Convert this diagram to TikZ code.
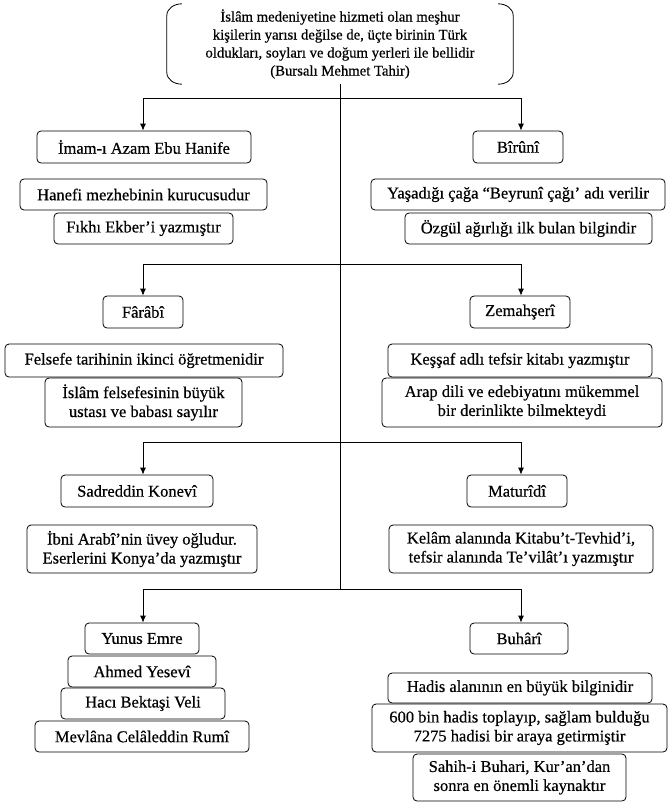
\documentclass[tikz,border=0pt]{standalone}
\usepackage{fontspec}
\setmainfont{Liberation Serif}
\newfontfamily\heavyserif{Liberation Serif}[FakeBold=0.5]
\usetikzlibrary{arrows.meta,calc}
\begin{document}
\begin{tikzpicture}[x=1pt,y=-1pt,
  line/.style={line width=0.8pt},
  arr/.style={line width=0.8pt,-{Latex[length=7pt,width=6pt]}},
  box/.style={draw,line width=0.8pt,rounded corners=4pt,align=center,inner sep=0pt,
     font=\heavyserif\fontsize{16.5}{19}\selectfont},
  bw/.style={minimum width=#1},
  bh/.style={minimum height=#1}]
\useasboundingbox (0,0) rectangle (668,804);
% top quotation
\node[align=center,inner sep=0pt,minimum width=346pt,minimum height=80pt,
      font=\heavyserif\fontsize{14.7}{18}\selectfont] (top) at (340,44)
  {İslâm medeniyetine hizmeti olan meşhur\\kişilerin yarısı değilse de, üçte birinin Türk\\oldukları, soyları ve doğum yerleri ile bellidir\\(Bursalı Mehmet Tahir)};
\draw[line] ([xshift=15pt]top.north west) to[out=180,in=90] ([yshift=-12pt]top.north west)
  -- ([yshift=12pt]top.south west) to[out=-90,in=180] ([xshift=15pt]top.south west);
\draw[line] ([xshift=-15pt]top.north east) to[out=0,in=90] ([yshift=-12pt]top.north east)
  -- ([yshift=12pt]top.south east) to[out=-90,in=0] ([xshift=-15pt]top.south east);

% level 1
\node[box,bw=214pt,bh=32pt] (imam) at (144,147) {İmam-ı Azam Ebu Hanife};
\node[box,bw=247pt,bh=31pt] (hanefi) at (143.5,194.5) {Hanefi mezhebinin kurucusudur};
\node[box,bw=179pt,bh=31pt] (fikhi) at (143.5,228.5) {Fıkhı Ekber’i yazmıştır};
\node[box,bw=90pt,bh=32pt] (biruni) at (518,147) {Bîrûnî};
\node[box,bw=294pt,bh=31pt] (yasadigi) at (518,194.5) {Yaşadığı çağa “Beyrunî çağı’ adı verilir};
\node[box,bw=247pt,bh=31pt] (ozgul) at (528.5,228.5) {Özgül ağırlığı ilk bulan bilgindir};

% level 2
\node[box,bw=80pt,bh=32pt] (farabi) at (143,312) {Fârâbî};
\node[box,bw=278pt,bh=33pt] (felsefe) at (144,360.5) {Felsefe tarihinin ikinci öğretmenidir};
\node[box,bw=197pt,bh=49pt] (islam) at (143.5,402.5) {İslâm felsefesinin büyük\\ustası ve babası sayılır};
\node[box,bw=100pt,bh=32pt] (zemah) at (520,312) {Zemahşerî};
\node[box,bw=264pt,bh=33pt] (kessaf) at (520,360.5) {Keşşaf adlı tefsir kitabı yazmıştır};
\node[box,bw=280pt,bh=49pt] (arap) at (522,402.5) {Arap dili ve edebiyatını mükemmel\\bir derinlikte bilmekteydi};

% level 3
\node[box,bw=152pt,bh=32pt] (sadr) at (137,491) {Sadreddin Konevî};
\node[box,bw=230pt,bh=48pt] (ibni) at (142,549) {İbni Arabî’nin üvey oğludur.\\Eserlerini Konya’da yazmıştır};
\node[box,bw=100pt,bh=32pt] (matur) at (517,491) {Maturîdî};
\node[box,bw=264pt,bh=48pt] (kelam) at (521,549) {Kelâm alanında Kitabu’t-Tevhid’i,\\tefsir alanında Te’vilât’ı yazmıştır};

% level 4
\node[box,bw=114pt,bh=31pt] (yunus) at (142,638.5) {Yunus Emre};
\node[box,bw=148pt,bh=31pt] (ahmed) at (142,671.5) {Ahmed Yesevî};
\node[box,bw=164pt,bh=31pt] (haci) at (143,703.5) {Hacı Bektaşi Veli};
\node[box,bw=214pt,bh=31pt] (mevlana) at (142,736.5) {Mevlâna Celâleddin Rumî};
\node[box,bw=98pt,bh=31pt] (buhari) at (519,638.5) {Buhârî};
\node[box,bw=264pt,bh=30pt] (hadis) at (520,688) {Hadis alanının en büyük bilginidir};
\node[box,bw=295pt,bh=48pt] (altiyuz) at (519.5,728) {600 bin hadis toplayıp, sağlam bulduğu\\7275 hadisi bir araya getirmiştir};
\node[box,bw=213pt,bh=47pt] (sahih) at (519.5,777.5) {Sahih-i Buhari, Kur’an’dan\\sonra en önemli kaynaktır};

% connectors
\coordinate (j4) at (340,589);
\coordinate (l1) at (143,98);  \coordinate (r1) at (521,98);
\coordinate (l2) at (143,264); \coordinate (r2) at (521,264);
\coordinate (l3) at (143,442); \coordinate (r3) at (521,442);
\coordinate (l4) at (143,589); \coordinate (r4) at (521,589);
\draw[line] (top.south) -- (j4);
\draw[line] (l1) -- (r1);
\draw[line] (l2) -- (r2);
\draw[line] (l3) -- (r3);
\draw[line] (l4) -- (r4);
\draw[arr] (l1) -- (l1 |- imam.north);
\draw[arr] (r1) -- (r1 |- biruni.north);
\draw[arr] (l2) -- (l2 |- farabi.north);
\draw[arr] (r2) -- (r2 |- zemah.north);
\draw[arr] (l3) -- (l3 |- sadr.north);
\draw[arr] (r3) -- (r3 |- matur.north);
\draw[arr] (l4) -- (l4 |- yunus.north);
\draw[arr] (r4) -- (r4 |- buhari.north);
\end{tikzpicture}
\end{document}
